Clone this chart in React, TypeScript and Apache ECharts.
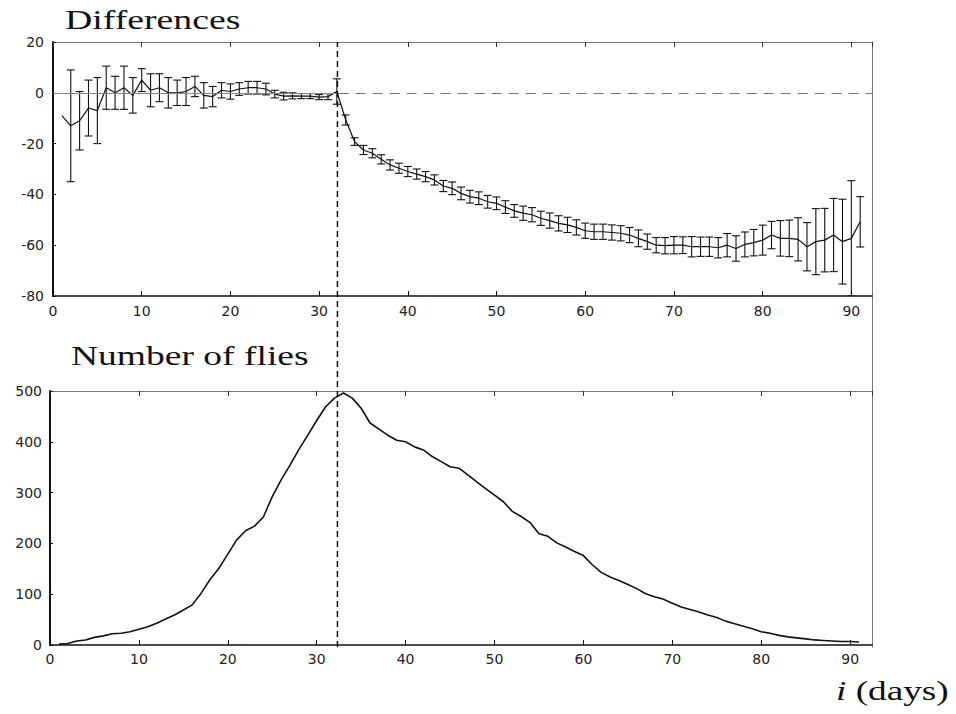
import React, { useEffect, useRef } from "react";
import * as echarts from "echarts";

// ---- data ----
const DAYS = [
  1, 2, 3, 4, 5, 6, 7, 8, 9, 10, 11, 12, 13, 14, 15, 16, 17, 18, 19, 20,
  21, 22, 23, 24, 25, 26, 27, 28, 29, 30, 31, 32, 33, 34, 35, 36, 37, 38, 39, 40,
  41, 42, 43, 44, 45, 46, 47, 48, 49, 50, 51, 52, 53, 54, 55, 56, 57, 58, 59, 60,
  61, 62, 63, 64, 65, 66, 67, 68, 69, 70, 71, 72, 73, 74, 75, 76, 77, 78, 79, 80,
  81, 82, 83, 84, 85, 86, 87, 88, 89, 90, 91,
];

const DIFF_MEAN = [
  -9, -13, -11, -6, -7, 2, 0, 2, -1, 5, 1, 2, 0, 0, 0.5, 2.5, -1, -1.5, 1, 0.5,
  1.5, 2, 2, 1.5, -0.5, -1.3, -1.2, -1.3, -1.3, -1.7, -1.5, 0.5, -10.7, -19.2, -22.5, -23.8, -26.2, -28.4, -29.7, -31,
  -32, -33, -34.3, -36.7, -37.6, -39.6, -40.9, -41.5, -42.9, -43.5, -45, -46.5, -47.4, -48, -49.4, -50.3, -51.4, -52, -53, -54.3,
  -54.7, -54.7, -55, -55.3, -56, -57.3, -58.6, -60, -60.2, -60, -60, -60.6, -60.6, -60.6, -61, -60, -61.3, -59.7, -59, -58,
  -56, -57.3, -57.3, -57.7, -60.6, -58.6, -58, -56, -58.6, -57.3, -50.8,
];

const DIFF_ERR = [
  0, 22, 11.5, 11, 13, 8.5, 6.5, 8.5, 7, 4.5, 6.5, 5.5, 6, 5, 5.5, 4, 5, 4, 3, 3,
  2.5, 2.5, 2.5, 2.3, 1.5, 1.5, 1.2, 1, 1, 1, 1.2, 5, 2, 1.5, 1.8, 1.8, 1.8, 2, 2, 2,
  2, 2, 2, 2.2, 2.5, 2.5, 2.5, 2.5, 2.5, 2.5, 2.5, 2.5, 2.8, 2.8, 2.8, 3, 3, 3, 3, 3,
  3, 3, 3, 3, 3, 3.3, 3, 3, 3.2, 3.4, 3.3, 4, 3.8, 3.8, 4, 4.6, 5, 4.9, 5.2, 5.9,
  5.4, 7, 7.2, 8.5, 9.5, 13, 12.5, 14.4, 16.7, 22.7, 9.9,
];

const FLIES = [
  2, 3, 8, 10, 15, 18, 22, 23, 26, 31, 36, 43, 51, 59, 69, 79, 102, 129, 151, 179,
  207, 225, 234, 252, 292, 325, 354, 385, 413, 442, 469, 486, 496, 486, 466, 437, 425, 413, 403, 400,
  390, 384, 371, 361, 351, 348, 335, 321, 308, 295, 282, 263, 253, 241, 219, 214, 201, 193, 184, 176,
  158, 143, 134, 127, 119, 111, 101, 95, 90, 82, 75, 70, 65, 59, 54, 47, 42, 37, 32, 26,
  23, 19, 16, 14, 12, 10, 9, 8, 7, 7, 6,
];

const DIFF_TICKS = { min: -80, max: 20, interval: 20 };
const FLY_TICKS = { min: 0, max: 500, interval: 100 };
const DAY_TICK = 10;
const SPLIT_DAY = 32.2;

const TITLE_TOP = "Differences";
const TITLE_BOTTOM = "Number of flies";

export default function App() {
  const ref = useRef<HTMLDivElement>(null);

  useEffect(() => {
    if (!ref.current) return;
    const chart = echarts.init(ref.current, null, { renderer: "svg" });

    const labelFont = {
      fontFamily: "DejaVu Sans",
      fontSize: 14,
      color: "#222",
    };
    const dayFormatter = (v: number) =>
      Math.abs(v % DAY_TICK) < 1e-6 ? String(v) : "";

    const bottomAxis = (grid: number, max: number, margin: number) => ({
      gridIndex: grid,
      type: "value",
      min: 0,
      max,
      interval: DAY_TICK,
      position: "bottom",
      axisLine: { onZero: false, lineStyle: { color: "#111", width: 1.5 } },
      axisTick: { inside: true, length: 5, lineStyle: { color: "#111" } },
      axisLabel: { ...labelFont, margin, formatter: dayFormatter, showMaxLabel: false },
      splitLine: { show: false },
    });
    const topAxis = (grid: number, max: number) => ({
      gridIndex: grid,
      type: "value",
      min: 0,
      max,
      interval: DAY_TICK,
      position: "top",
      axisLine: { onZero: false, lineStyle: { color: "#777", width: 1 } },
      axisTick: { inside: true, length: 5, lineStyle: { color: "#333" } },
      axisLabel: { show: false },
      splitLine: { show: false },
    });

    const diffLine = DAYS.map((d, i) => [d, DIFF_MEAN[i]]);
    const errData = DAYS.map((d, i) => [
      d,
      DIFF_MEAN[i] - DIFF_ERR[i],
      DIFF_MEAN[i] + DIFF_ERR[i],
      DIFF_ERR[i],
    ]).filter((r) => r[3] > 0);
    const flyLine = DAYS.map((d, i) => [d, FLIES[i]]);

    const option: any = {
      animation: false,
      backgroundColor: "#ffffff",
      grid: [
        { left: 53, top: 42, width: 819, height: 254 },
        { left: 50, top: 391, width: 822, height: 254 },
        { left: 51.5, top: 42, width: 820.5, height: 605 },
      ],
      xAxis: [
        bottomAxis(0, 92.33, 8),
        topAxis(0, 92.33),
        bottomAxis(1, 92.46, 7),
        topAxis(1, 92.46),
        { gridIndex: 2, type: "value", min: 0, max: 92.4, show: false },
      ],
      yAxis: [
        {
          gridIndex: 0,
          type: "value",
          ...DIFF_TICKS,
          axisLine: { show: true, onZero: false, lineStyle: { color: "#111", width: 2 } },
          axisTick: { show: true, inside: true, length: 3, lineStyle: { color: "#111" } },
          axisLabel: { ...labelFont, margin: 9 },
          splitLine: { show: false },
        },
        {
          gridIndex: 1,
          type: "value",
          ...FLY_TICKS,
          axisLine: { show: true, onZero: false, lineStyle: { color: "#111", width: 2 } },
          axisTick: { show: true, inside: true, length: 3, lineStyle: { color: "#111" } },
          axisLabel: { ...labelFont, margin: 8 },
          splitLine: { show: false },
        },
        {
          gridIndex: 2,
          type: "value",
          min: 0,
          max: 1,
          position: "right",
          axisLine: { show: true, onZero: false, lineStyle: { color: "#777", width: 1 } },
          axisTick: { show: false },
          axisLabel: { show: false },
          splitLine: { show: false },
        },
      ],
      series: [
        {
          type: "line",
          xAxisIndex: 0,
          yAxisIndex: 0,
          data: diffLine,
          showSymbol: false,
          symbol: "none",
          lineStyle: { color: "#111", width: 1.2 },
          z: 3,
          markLine: {
            silent: true,
            symbol: "none",
            label: { show: false },
            lineStyle: { color: "#777", width: 1 },
            data: [
              [
                { coord: [0, 0], lineStyle: { type: "solid", color: "#888" } },
                { coord: [SPLIT_DAY, 0] },
              ],
              [
                { coord: [SPLIT_DAY, 0], lineStyle: { type: [10, 7], color: "#777" } },
                { coord: [92.33, 0] },
              ],
            ],
          },
        },
        {
          type: "custom",
          xAxisIndex: 0,
          yAxisIndex: 0,
          data: errData,
          encode: { x: 0, y: [1, 2] },
          clip: true,
          z: 4,
          renderItem: (params: any, api: any) => {
            const x = api.value(0);
            const lo = api.coord([x, api.value(1)]);
            const hi = api.coord([x, api.value(2)]);
            const w = 4;
            const style = { stroke: "#111", lineWidth: 1.1 };
            return {
              type: "group",
              children: [
                { type: "line", shape: { x1: hi[0], y1: hi[1], x2: lo[0], y2: lo[1] }, style },
                { type: "line", shape: { x1: hi[0] - w, y1: hi[1], x2: hi[0] + w, y2: hi[1] }, style },
                { type: "line", shape: { x1: lo[0] - w, y1: lo[1], x2: lo[0] + w, y2: lo[1] }, style },
              ],
            };
          },
        },
        {
          type: "line",
          xAxisIndex: 2,
          yAxisIndex: 1,
          data: flyLine,
          showSymbol: false,
          symbol: "none",
          lineStyle: { color: "#111", width: 1.6 },
          z: 3,
        },
        {
          type: "line",
          xAxisIndex: 4,
          yAxisIndex: 2,
          data: [
            [SPLIT_DAY, 0],
            [SPLIT_DAY, 1],
          ],
          showSymbol: false,
          symbol: "none",
          lineStyle: { color: "#111", width: 1.5, type: [6, 4] },
          z: 6,
          silent: true,
        },
      ],
      graphic: [
        {
          type: "text",
          x: 65,
          y: 20,
          scaleX: 1.4,
          style: {
            text: TITLE_TOP,
            fontFamily: "Liberation Serif",
            fontSize: 27,
            fill: "#111",
            textAlign: "left",
            textVerticalAlign: "middle",
          },
        },
        {
          type: "text",
          x: 71,
          y: 356,
          scaleX: 1.39,
          style: {
            text: TITLE_BOTTOM,
            fontFamily: "Liberation Serif",
            fontSize: 27,
            fill: "#111",
            textAlign: "left",
            textVerticalAlign: "middle",
          },
        },
        {
          type: "text",
          x: 836,
          y: 691,
          scaleX: 1.38,
          style: {
            text: "{it|i} (days)",
            fontFamily: "Liberation Serif",
            fontSize: 27,
            fill: "#111",
            textAlign: "left",
            textVerticalAlign: "middle",
            rich: {
              it: {
                fontFamily: "Liberation Serif",
                fontStyle: "italic",
                fontSize: 27,
                fill: "#111",
              },
            },
          },
        },
      ],
    };

    chart.setOption(option);
    return () => chart.dispose();
  }, []);

  return (
    <div
      ref={ref}
      style={{ position: "fixed", left: 0, top: 0, width: 956, height: 714, background: "#fff" }}
    />
  );
}
